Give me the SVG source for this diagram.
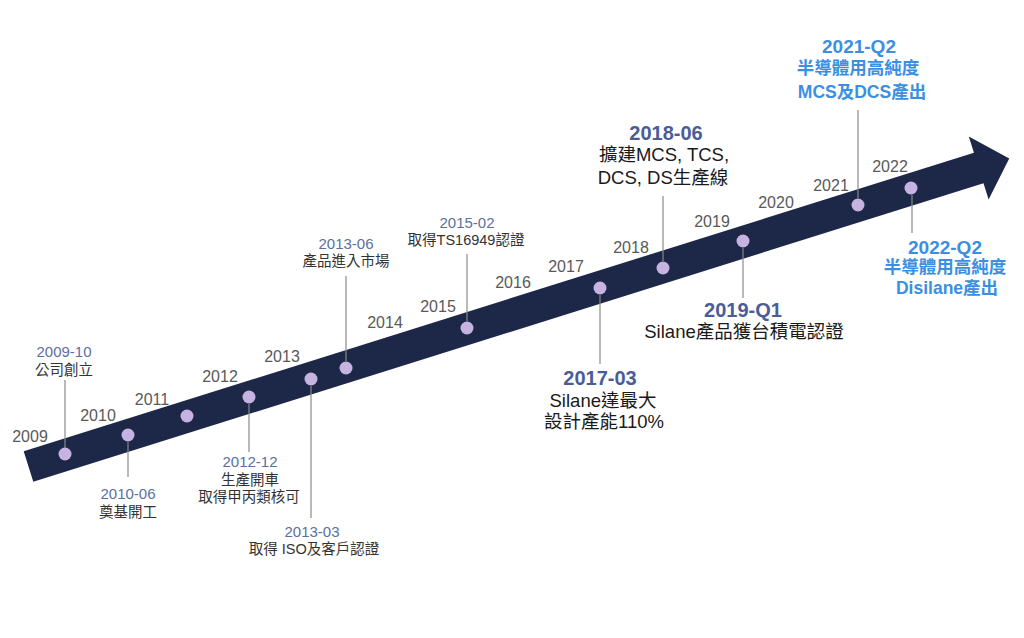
<svg xmlns="http://www.w3.org/2000/svg" width="1024" height="638" viewBox="0 0 1024 638">
<style>
text{font-family:"Liberation Sans","Noto Sans CJK TC",sans-serif;text-anchor:middle}
.yr{font-size:16px;fill:#595959}
.sd{font-size:15px;fill:#5b70a0}
.st{font-size:14.5px;fill:#333}
.bd{font-size:20px;fill:#4a5d98;font-weight:600}
.bt{font-size:18.5px;fill:#1a1a1a}
.ld{font-size:19px;fill:#3b8fe3;font-weight:600}
.lt{font-size:17.5px;fill:#3b8fe3;font-weight:600}
.dot{fill:#c6b3e1}
.con line{stroke:#8a8a8a;stroke-width:1.2}
</style>
<rect width="1024" height="638" fill="#fff"/>
<g id="arrow">
<path d="M0,-16 H996 V-33 L1028,0 L996,33 V16 H0 Z" fill="#1d2747" transform="translate(28.5,466.5) rotate(-17.44)"/>
</g>
<g id="years" class="yr">
<text class="yr" x="30" y="442">2009</text>
<text class="yr" x="98" y="421">2010</text>
<text class="yr" x="152" y="405">2011</text>
<text class="yr" x="220" y="382">2012</text>
<text class="yr" x="282" y="362">2013</text>
<text class="yr" x="385" y="328">2014</text>
<text class="yr" x="438" y="312">2015</text>
<text class="yr" x="513" y="288">2016</text>
<text class="yr" x="566" y="272">2017</text>
<text class="yr" x="631" y="253">2018</text>
<text class="yr" x="712" y="227">2019</text>
<text class="yr" x="776" y="208">2020</text>
<text class="yr" x="831" y="191">2021</text>
<text class="yr" x="890" y="172">2022</text>
</g>
<g id="connectors" class="con">
<line x1="65" y1="380" x2="65" y2="448"/>
<line x1="128" y1="442" x2="128" y2="477"/>
<line x1="249" y1="404" x2="249" y2="452"/>
<line x1="311" y1="386" x2="311" y2="518"/>
<line x1="346" y1="276" x2="346" y2="361"/>
<line x1="467" y1="254" x2="467" y2="321"/>
<line x1="600" y1="295" x2="600" y2="364"/>
<line x1="663" y1="196" x2="663" y2="261"/>
<line x1="743" y1="248" x2="743" y2="298"/>
<line x1="858" y1="110" x2="858" y2="198"/>
<line x1="912" y1="195" x2="912" y2="233"/>
</g>
<g id="n2009-10">
<circle class="dot" cx="65" cy="454" r="6.5"/>
<text class="sd" x="64" y="357">2009-10</text>
<text class="st" x="64" y="375">公司創立</text>
</g>
<g id="n2010-06">
<circle class="dot" cx="128" cy="435" r="6.5"/>
<text class="sd" x="128" y="499">2010-06</text>
<text class="st" x="128" y="517">奠基開工</text>
</g>
<g id="n2011">
<circle class="dot" cx="187" cy="416" r="6.5"/>
</g>
<g id="n2012-12">
<circle class="dot" cx="249" cy="397" r="6.5"/>
<text class="sd" x="250" y="467">2012-12</text>
<text class="st" x="250" y="485">生產開車</text>
<text class="st" x="249" y="502">取得甲丙類核可</text>
</g>
<g id="n2013-03">
<circle class="dot" cx="311" cy="379" r="6.5"/>
<text class="sd" x="312" y="537">2013-03</text>
<text class="st" x="314" y="554">取得 ISO及客戶認證</text>
</g>
<g id="n2013-06">
<circle class="dot" cx="346" cy="368" r="6.5"/>
<text class="sd" x="346" y="249">2013-06</text>
<text class="st" x="346" y="266">產品進入市場</text>
</g>
<g id="n2015-02">
<circle class="dot" cx="467" cy="328" r="6.5"/>
<text class="sd" x="467" y="228">2015-02</text>
<text class="st" x="466" y="245">取得TS16949認證</text>
</g>
<g id="n2017-03">
<circle class="dot" cx="600" cy="288" r="6.5"/>
<text class="bd" x="600" y="385">2017-03</text>
<text class="bt" x="603" y="407">Silane達最大</text>
<text class="bt" x="604" y="428">設計產能110%</text>
</g>
<g id="n2018-06">
<circle class="dot" cx="663" cy="268" r="6.5"/>
<text class="bd" x="666" y="140">2018-06</text>
<text class="bt" x="664" y="161">擴建MCS, TCS,</text>
<text class="bt" x="663" y="184">DCS, DS生產線</text>
</g>
<g id="n2019-Q1">
<circle class="dot" cx="743" cy="241" r="6.5"/>
<text class="bd" x="743" y="317">2019-Q1</text>
<text class="bt" x="744" y="338">Silane產品獲台積電認證</text>
</g>
<g id="n2021-Q2">
<circle class="dot" cx="858" cy="205" r="6.5"/>
<text class="ld" x="859" y="53">2021-Q2</text>
<text class="lt" x="858" y="74">半導體用高純度</text>
<text class="lt" x="862" y="98">MCS及DCS產出</text>
</g>
<g id="n2022-Q2">
<circle class="dot" cx="911" cy="188" r="6.5"/>
<text class="ld" x="945" y="254">2022-Q2</text>
<text class="lt" x="945" y="273">半導體用高純度</text>
<text class="lt" x="947" y="294">Disilane產出</text>
</g>
</svg>
